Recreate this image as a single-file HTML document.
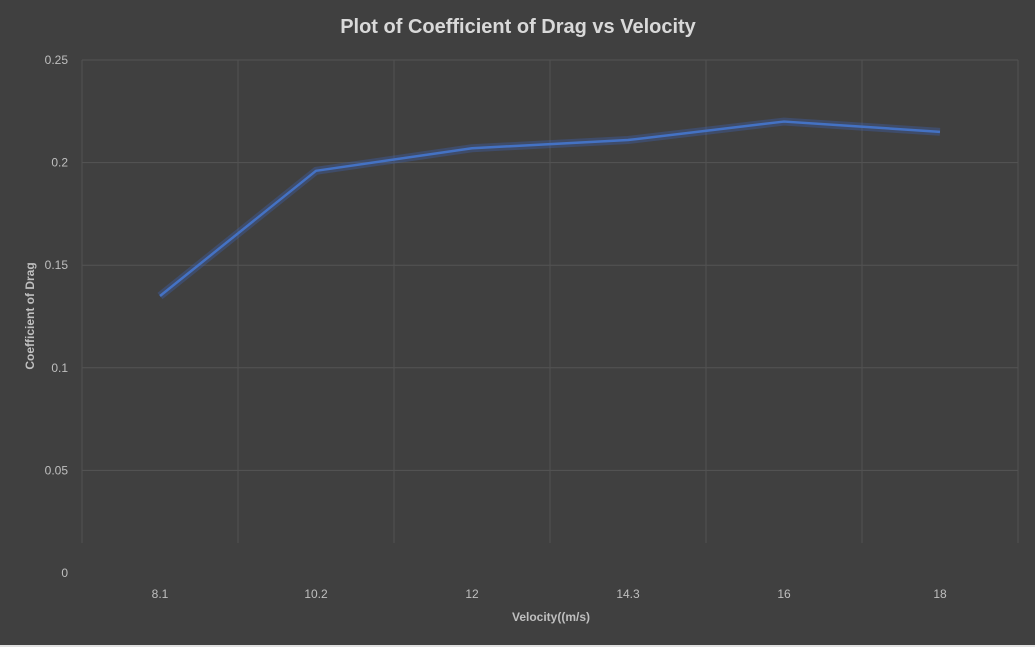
<!DOCTYPE html>
<html><head><meta charset="utf-8"><style>
html,body{margin:0;padding:0;background:#404040;}
svg{display:block;font-family:"Liberation Sans",sans-serif;}
</style></head><body>
<svg id="chart" width="1035" height="647">
<rect x="0" y="0" width="1035" height="647" fill="#404040"/>
<text x="518" y="33" text-anchor="middle" font-size="20" font-weight="bold" fill="#d9d9d9">Plot of Coefficient of Drag vs Velocity</text>
<g id="grid"></g><g id="ticks"></g><g id="series"></g>
<text x="551" y="621" text-anchor="middle" font-size="12" font-weight="bold" fill="#bfbfbf">Velocity((m/s)</text>
<text transform="translate(34,316) rotate(-90)" text-anchor="middle" font-size="12" font-weight="bold" fill="#bfbfbf">Coefficient of Drag</text>
<line x1="0" y1="646" x2="1035" y2="646" stroke="#e0e0e0" stroke-width="2"/>
</svg>
<script>
const categories=["8.1","10.2","12","14.3","16","18"];
const cdValues=[0.135,0.196,0.207,0.211,0.220,0.215];
const yTicks=[0,0.05,0.1,0.15,0.2,0.25];
const yTickLabels=["0","0.05","0.1","0.15","0.2","0.25"];
const NS="http://www.w3.org/2000/svg";
const L=82,R=1018,T=60,B=573,yMax=0.25;
const step=(R-L)/categories.length;
const xPos=i=>L+step*(i+0.5);
const yPos=v=>B-(v/yMax)*(B-T);
function mk(tag,attrs,parent){const e=document.createElementNS(NS,tag);for(const k in attrs)e.setAttribute(k,attrs[k]);document.getElementById(parent).appendChild(e);return e;}
yTicks.forEach((v,i)=>{
  if(v>0){const g=mk("line",{x1:L,x2:R,y1:yPos(v),y2:yPos(v),stroke:"#545454","stroke-width":1},"grid");
  
  }
  const t=mk("text",{x:68,y:yPos(v)+4,"text-anchor":"end","font-size":12,fill:"#bfbfbf"},"ticks");
  t.textContent=yTickLabels[i];
  
  
});
for(let i=0;i<=categories.length;i++){
  const g=mk("line",{x1:L+step*i,x2:L+step*i,y1:T,y2:B-30,stroke:"#525252","stroke-width":1},"grid");
  
  
}
categories.forEach((c,i)=>{
  const t=mk("text",{x:xPos(i),y:598,"text-anchor":"middle","font-size":12,fill:"#bfbfbf"},"ticks");
  t.textContent=c;
  
  
});
const pts=cdValues.map((v,i)=>xPos(i)+","+yPos(v)).join(" ");
const glow=mk("polyline",{points:pts,fill:"none",stroke:"#3f63b8","stroke-width":8,"stroke-opacity":0.35,"stroke-linejoin":"round"},"series");


const line=mk("polyline",{points:pts,fill:"none",stroke:"#4472c4","stroke-width":2.5,"stroke-linejoin":"round"},"series");


</script>
</body></html>
